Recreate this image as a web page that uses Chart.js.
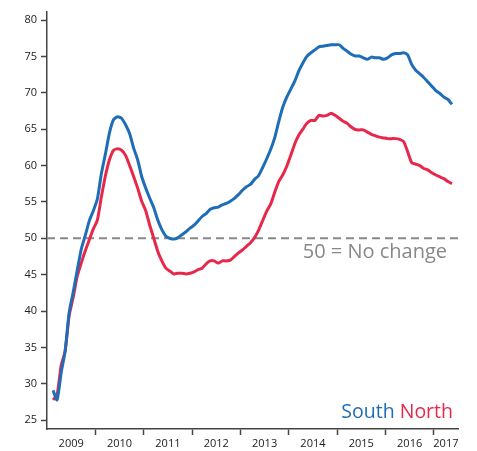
<!DOCTYPE html>
<html>
<head>
<meta charset="utf-8">
<script src="https://cdn.jsdelivr.net/npm/chart.js@4/dist/chart.umd.min.js"></script>
<style>
  html, body { margin: 0; padding: 0; background: #fff; }
  #wrap { width: 477px; height: 451px; }
</style>
</head>
<body>
<div id="wrap"><canvas id="chart" width="477" height="451"></canvas></div>
<script>
// monthly readings, Feb 2009 .. May 2017
var firstMonth = 1.5; // months after Jan 2009 (mid-month)
var south = [
    29.1, 27.8, 31.5, 34.5, 39.8, 42.6, 45.6, 48.5, 50.4, 52.4,
    53.8, 55.4, 58.9, 61.6, 64.5, 66.3, 66.7, 66.5, 65.6, 64.4,
    62.4, 60.8, 58.5, 56.9, 55.5, 54.2, 52.5, 51.2, 50.3, 50.0,
    49.9, 50.1, 50.5, 50.9, 51.4, 51.8, 52.4, 53.0, 53.4, 54.0,
    54.2, 54.3, 54.6, 54.8, 55.1, 55.5, 56.0, 56.6, 57.1, 57.4,
    58.1, 58.6, 59.7, 60.9, 62.2, 63.8, 66.0, 68.0, 69.4, 70.5,
    71.6, 73.0, 74.1, 75.0, 75.5, 75.9, 76.3, 76.4, 76.5, 76.6,
    76.6, 76.6, 76.1, 75.7, 75.3, 75.05, 75.05, 74.8, 74.6, 74.9,
    74.8, 74.8, 74.6, 74.8, 75.2, 75.4, 75.4, 75.5, 75.2, 73.9,
    73.1, 72.6, 72.1, 71.5, 70.9, 70.3, 69.9, 69.4, 69.1, 68.4
];
var north = [
    27.8, 28.5, 32.5, 34.5, 39.4, 41.9, 44.8, 46.6, 48.3, 49.8,
    51.3, 52.5, 55.7, 58.6, 60.8, 62.1, 62.3, 62.1, 61.4, 60.0,
    58.5, 56.9, 55.1, 53.8, 51.8, 50.0, 48.2, 46.9, 45.9, 45.5,
    45.1, 45.2, 45.2, 45.1, 45.2, 45.4, 45.7, 45.9, 46.5, 46.9,
    46.9, 46.6, 46.9, 46.9, 47.0, 47.5, 48.0, 48.4, 48.9, 49.4,
    50.1, 51.1, 52.4, 53.7, 54.7, 56.3, 57.8, 58.7, 59.9, 61.4,
    63.0, 64.2, 65.0, 65.8, 66.2, 66.2, 66.9, 66.8, 66.9, 67.2,
    66.9, 66.5, 66.1, 65.8, 65.3, 64.95, 64.9, 64.9, 64.6, 64.3,
    64.1, 63.9, 63.8, 63.7, 63.7, 63.7, 63.6, 63.3, 61.9, 60.4,
    60.2, 60.0, 59.6, 59.4, 59.0, 58.7, 58.45, 58.2, 57.8, 57.5
];
var yearLabels = ['2009', '2010', '2011', '2012', '2013', '2014', '2015', '2016', '2017'];
var yTicks = [25, 30, 35, 40, 45, 50, 55, 60, 65, 70, 75, 80];
var noChangeLevel = 50;
var noChangeText = '50 = No change';

var blue = '#1f6db6';
var red = '#e8284b';
var grey = '#888888';
var axisColor = '#444444';
var font = '"Open Sans", "Noto Sans", sans-serif';

var xMax = 102; // axis ends mid 2017

function toPoints(values) {
    return values.map(function (v, i) {
        return {x: firstMonth + i, y: v};
    });
}

// year boundaries get a tick mark, the middle of each year gets the label
var xTicks = [];
yearLabels.forEach(function (label, i) {
    var start = i * 12;
    var end = Math.min(start + 12, xMax);
    if (i > 0) xTicks.push({value: start, major: true});
    xTicks.push({value: (start + end) / 2, major: false, text: label});
});

var textPlugin = {
    id: 'notes',
    afterDatasetsDraw: function (chart) {
        var ctx = chart.ctx;
        var area = chart.chartArea;
        var y50 = chart.scales.y.getPixelForValue(noChangeLevel);
        ctx.save();
        ctx.textBaseline = 'alphabetic';
        ctx.textAlign = 'right';
        ctx.font = '20px ' + font;
        ctx.fillStyle = grey;
        ctx.fillText(noChangeText, area.right - 11, y50 + 20);

        var sets = chart.data.datasets;
        ctx.font = '19.5px ' + font;
        var northW = ctx.measureText(sets[1].label).width;
        var gap = ctx.measureText(' ').width;
        ctx.fillStyle = sets[1].borderColor;
        ctx.fillText(sets[1].label, area.right - 5, area.bottom - 11);
        ctx.fillStyle = sets[0].borderColor;
        ctx.fillText(sets[0].label, area.right - 5 - northW - gap, area.bottom - 11);
        ctx.restore();
    }
};

new Chart(document.getElementById('chart'), {
    type: 'line',
    data: {
        datasets: [
            {
                label: 'South',
                data: toPoints(south),
                borderColor: blue,
                borderWidth: 3,
                pointRadius: 0,
                tension: 0.2,
                fill: false
            },
            {
                label: 'North',
                data: toPoints(north),
                borderColor: red,
                borderWidth: 3,
                pointRadius: 0,
                tension: 0.2,
                fill: false
            },
            {
                label: 'no change',
                data: [{x: 0, y: noChangeLevel}, {x: xMax, y: noChangeLevel}],
                borderColor: grey,
                borderWidth: 2,
                borderDash: [8, 5],
                pointRadius: 0,
                fill: false
            }
        ]
    },
    options: {
        responsive: false,
        animation: false,
        events: [],
        layout: {padding: {top: 12, right: 19, left: 0, bottom: 0}},
        plugins: {legend: {display: false}, tooltip: {enabled: false}},
        scales: {
            x: {
                type: 'linear',
                min: 0,
                max: xMax,
                afterBuildTicks: function (scale) {
                    scale.ticks = xTicks.map(function (t) {
                        return {value: t.value, major: t.major};
                    });
                },
                afterFit: function (scale) { scale.height = 22; },
                grid: {
                    drawOnChartArea: false,
                    drawTicks: true,
                    tickLength: 6,
                    tickWidth: 1.5,
                    tickColor: function (c) {
                        return c.tick && c.tick.major ? axisColor : 'rgba(0,0,0,0)';
                    }
                },
                border: {display: true, color: axisColor, width: 1.5},
                ticks: {
                    autoSkip: false,
                    maxRotation: 0,
                    padding: 2,
                    color: '#222',
                    font: {family: font, size: 11},
                    callback: function (value, i) {
                        return xTicks[i].major ? '' : xTicks[i].text;
                    }
                }
            },
            y: {
                min: 23.8,
                max: 81.1,
                afterBuildTicks: function (scale) {
                    scale.ticks = yTicks.map(function (v) { return {value: v}; });
                },
                afterFit: function (scale) { scale.width = 47; },
                grid: {
                    drawOnChartArea: false,
                    drawTicks: true,
                    tickLength: 6,
                    tickWidth: 1.5,
                    tickColor: axisColor
                },
                border: {display: true, color: axisColor, width: 1.5},
                ticks: {
                    padding: 4,
                    color: '#222',
                    font: {family: font, size: 11}
                }
            }
        }
    },
    plugins: [textPlugin]
});
</script>
</body>
</html>
